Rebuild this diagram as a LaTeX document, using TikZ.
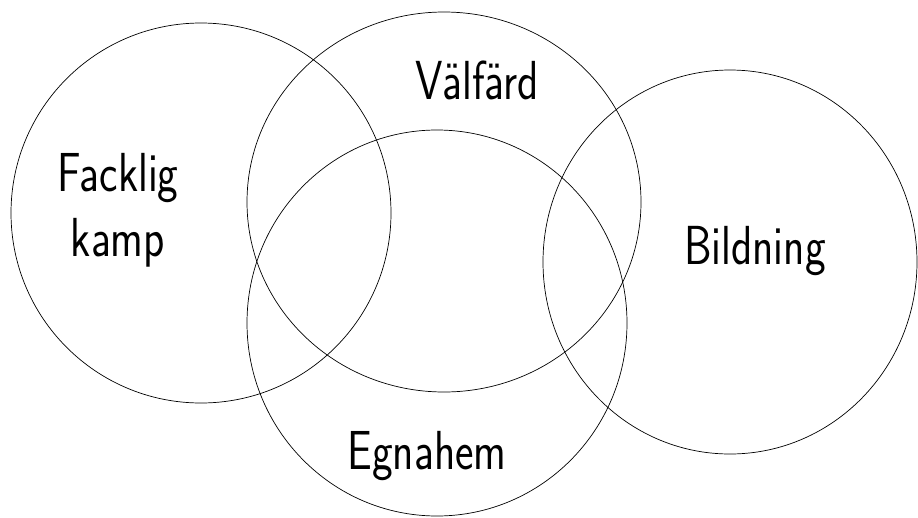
\documentclass[tikz,border=0pt]{standalone}
\begin{document}
\begin{tikzpicture}[x=1pt,y=-1pt,
  ring/.style={draw=black,line width=0.7pt},
  lbl/.style={font=\sffamily\fontsize{44}{48}\selectfont,inner sep=0pt,anchor=base,yscale=1.25,xscale=1.0}]
\useasboundingbox (0,0) rectangle (918,517);
\draw[ring] (201,213) ellipse [x radius=190,y radius=190];
\draw[ring] (444,202) ellipse [x radius=197,y radius=190];
\draw[ring] (437,323) ellipse [x radius=190,y radius=193];
\draw[ring] (730,262) ellipse [x radius=187,y radius=192];
\node[lbl] (v) at (477,99) {Välfärd};
\node[lbl] (f1) at (118,191) {Facklig};
\node[lbl] (f2) at (118,256) {kamp};
\node[lbl] (b) at (755,264) {Bildning};
\node[lbl] (e) at (427,469) {Egnahem};
\end{tikzpicture}
\end{document}
